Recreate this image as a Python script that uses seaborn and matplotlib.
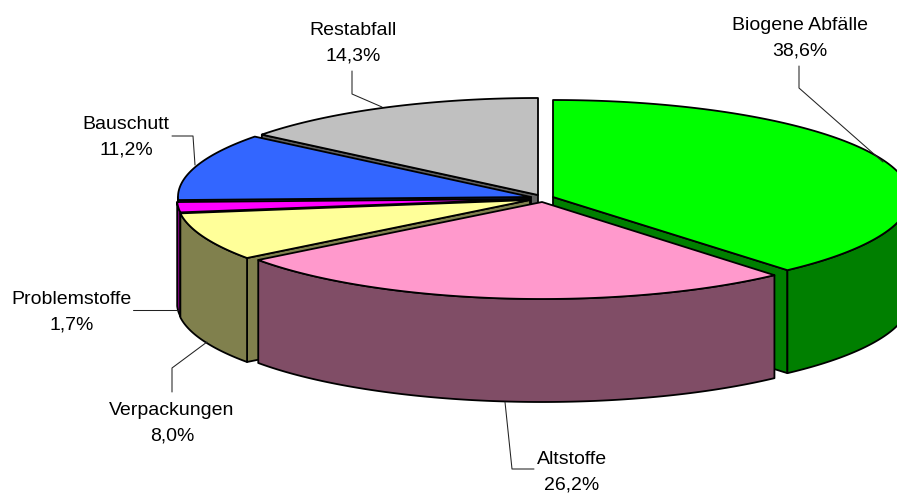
import numpy as np
import matplotlib
matplotlib.use("Agg")
import matplotlib.pyplot as plt
import seaborn as sns

# Waste fractions, in clockwise order starting at twelve o'clock
categories = ["Biogene Abfälle", "Altstoffe", "Verpackungen", "Problemstoffe", "Bauschutt", "Restabfall"]
shares = [38.6, 26.2, 8.0, 1.7, 11.2, 14.3]

top_colors = ["#00FF00", "#FF99CC", "#FFFF99", "#FF00FF", "#3366FF", "#C0C0C0"]
side_colors = ["#007F00", "#804D66", "#80804D", "#7F007F", "#1A3380", "#606060"]

# Apex of every slice after explosion, in figure pixels
apex_x = [553, 542, 530, 530, 531, 538]
apex_y = [197, 202, 200, 199, 197, 195]
# Ellipse half-width and wall height per slice
radii_x = [357, 354, 353, 353, 353, 353]
depths = [103, 103, 104, 104, 104, 104]
radius_y = 97
# Back-to-front painting order
paint_order = [5, 4, 3, 2, 0, 1]

# Leader lines and label baselines, in figure pixels
leader_x = [[799, 799, 883], [505, 512, 534], [172, 172, 207], [133, 178], [172, 193, 195], [352, 352, 382]]
leader_y = [[66, 88, 162], [402, 469, 469], [392, 368, 342], [310, 310], [136, 136, 165], [71, 94, 107]]
label_x = [800, 572, 172, 71.5, 126, 353]
label_y = [30, 464, 415, 304.5, 129, 35]

sns.set_theme(style="white")
plt.rcParams["font.family"] = ["Liberation Sans", "DejaVu Sans"]

fig = plt.figure(figsize=(8.97, 4.93), dpi=100, facecolor="white")
ax = fig.add_axes([0, 0, 1, 1])
ax.set_xlim(0, 897)
ax.set_ylim(493, 0)
ax.axis("off")

edges = np.radians(np.concatenate([[0], np.cumsum(shares)]) * 3.6)
edges[-1] = 2 * np.pi
edge_style = dict(edgecolor="black", linewidth=1.3, joinstyle="round")


def rim(cx, cy, rx, start, stop):
    """Points along the elliptical rim between two clockwise angles."""
    t = np.linspace(start, stop, max(int(abs(stop - start) * 120), 2))
    return cx + rx * np.sin(t), cy - radius_y * np.cos(t)


for i in paint_order:
    cx, cy, rx, depth = apex_x[i], apex_y[i], radii_x[i], depths[i]
    a, b = edges[i], edges[i + 1]

    # Cut faces turned toward the viewer
    for angle, visible in ((a, np.sin(a) < 0), (b, np.sin(b) > 0)):
        if visible:
            px, py = rim(cx, cy, rx, angle, angle)
            px, py = px[0], py[0]
            ax.fill([cx, px, px, cx], [cy, py, py + depth, cy + depth],
                    facecolor=side_colors[i], **edge_style)

    # Outer wall, only along the front half of the rim
    lo, hi = max(a, np.pi / 2), min(b, 3 * np.pi / 2)
    if lo < hi:
        wx, wy = rim(cx, cy, rx, lo, hi)
        ax.fill(np.r_[wx, wx[::-1]], np.r_[wy, wy[::-1] + depth],
                facecolor=side_colors[i], **edge_style)

    # Top surface
    tx, ty = rim(cx, cy, rx, a, b)
    ax.fill(np.r_[cx, tx], np.r_[cy, ty], facecolor=top_colors[i], **edge_style)

for i, name in enumerate(categories):
    ax.plot(leader_x[i], leader_y[i], color="#222222", linewidth=0.75, zorder=5)
    value_text = f"{shares[i]:.1f}".replace(".", ",") + "%"
    ax.text(label_x[i], label_y[i], name, ha="center", va="baseline",
            fontsize=14.0, color="black", zorder=6)
    ax.text(label_x[i], label_y[i] + 25.5, value_text, ha="center", va="baseline",
            fontsize=14.0, color="black", zorder=6)

fig.savefig("out.png", dpi=100)
